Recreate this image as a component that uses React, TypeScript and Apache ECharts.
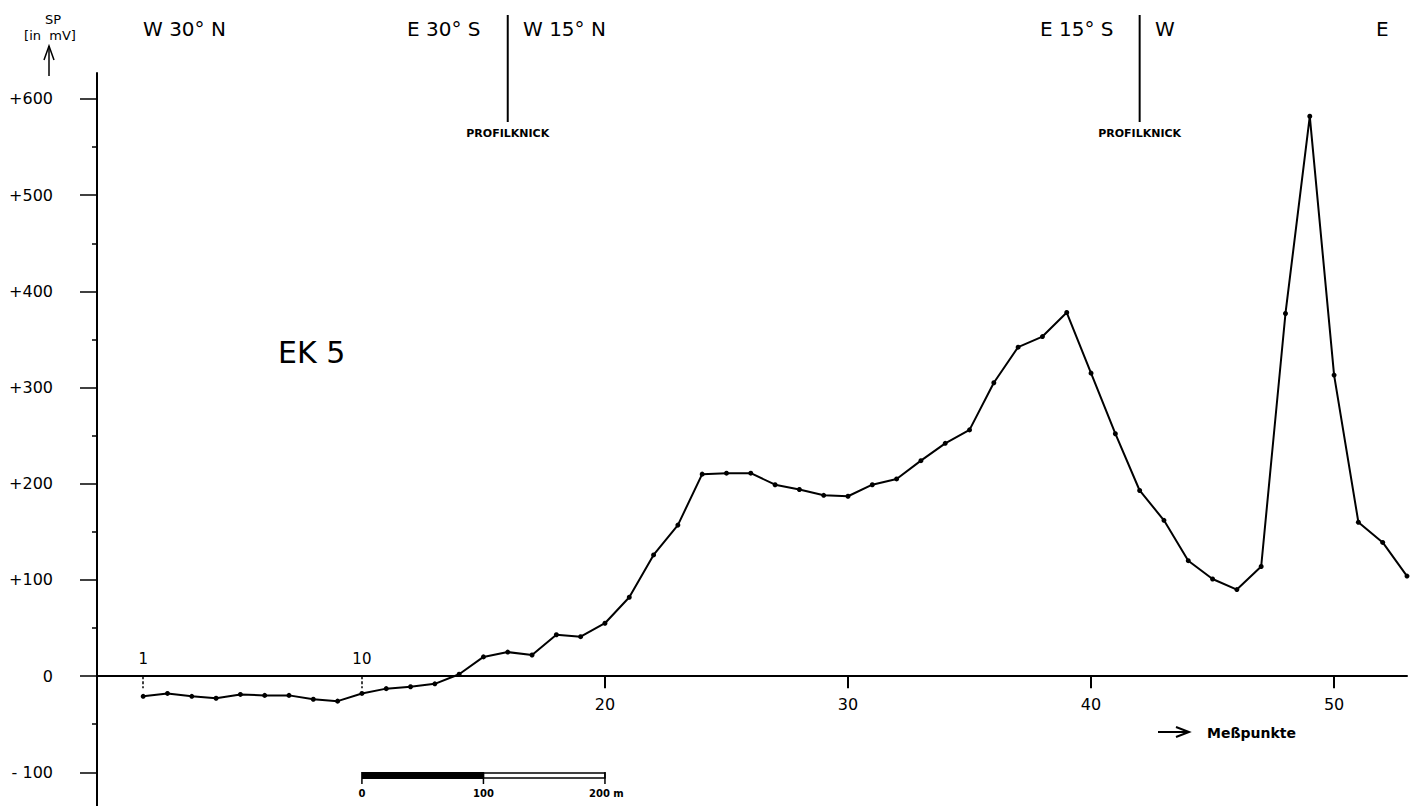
import React, { useEffect, useRef } from 'react';
import * as echarts from 'echarts';

// Measuring points (Meßpunkte) and self-potential SP values in mV
const measuringPoints = [
  1, 2, 3, 4, 5, 6, 7, 8, 9, 10,
  11, 12, 13, 14, 15, 16, 17, 18, 19, 20,
  21, 22, 23, 24, 25, 26, 27, 28, 29, 30,
  31, 32, 33, 34, 35, 36, 37, 38, 39, 40,
  41, 42, 43, 44, 45, 46, 47, 48, 49, 50,
  51, 52, 53,
];
const spValues = [
  -21, -18, -21, -23, -19, -20, -20, -24, -26, -18,
  -13, -11, -8, 2, 20, 25, 22, 43, 41, 55,
  82, 126, 157, 210, 211, 211, 199, 194, 188, 187,
  199, 205, 224, 242, 256, 305, 342, 353, 378, 315,
  252, 193, 162, 120, 101, 90, 114, 377, 582, 313,
  160, 139, 104,
];

const yMin = -135;
const yMax = 627;
const xMin = -0.9;
const xMax = 53;
const yMajorTicks = [-100, 0, 100, 200, 300, 400, 500, 600];
const yMinorTicks = [-50, 50, 150, 250, 350, 450, 550];
const xTicks = [20, 30, 40, 50];
const xLabelsBelow = [20, 30, 40, 50];
const xMarksAbove = [1, 10];
const profileKnicks = [16, 42];
const scaleBarPoints = [10, 15, 20];
const scaleBarLabels = ['0', '100', '200 m'];
const directionLabels = [
  { text: 'W 30° N', x: 143 },
  { text: 'E 30° S', x: 407 },
  { text: 'W 15° N', x: 523 },
  { text: 'E 15° S', x: 1040 },
  { text: 'W', x: 1155 },
  { text: 'E', x: 1376 },
];

const FONT = 'DejaVu Sans';

export default function App() {
  const ref = useRef<HTMLDivElement>(null);

  useEffect(() => {
    document.body.style.margin = '0';
    if (!ref.current) return;
    const chart = echarts.init(ref.current, null, { renderer: 'svg' });
    const data = measuringPoints.map((p, i) => [p, spValues[i]]);
    const black = '#000';

    const makeXAxes = (offset: number) => [
      {
        type: 'value',
        min: xMin,
        max: xMax,
        position: 'bottom',
        offset,
        axisLine: { show: true, onZero: false, lineStyle: { color: black, width: 2 } },
        axisTick: { show: true, customValues: xTicks, length: 12, lineStyle: { color: black, width: 2 } },
        axisLabel: {
          customValues: xLabelsBelow,
          margin: 20,
          color: black,
          fontSize: 16,
          fontFamily: FONT,
        },
        splitLine: { show: false },
      },
      {
        type: 'value',
        min: xMin,
        max: xMax,
        position: 'bottom',
        offset,
        axisLine: { show: false, onZero: false },
        axisTick: {
          show: true,
          customValues: xMarksAbove,
          length: 12,
          lineStyle: { color: black, width: 1.5, type: [3, 2] },
        },
        axisLabel: {
          inside: true,
          customValues: xMarksAbove,
          margin: 10,
          color: black,
          fontSize: 15,
          fontFamily: FONT,
        },
        splitLine: { show: false },
      },
    ];

    const option: any = {
      animation: false,
      backgroundColor: '#fff',
      grid: { left: 97, right: 15, top: 73, bottom: 0, outerBoundsMode: 'none', containLabel: false },
      xAxis: makeXAxes(0),
      yAxis: [
        {
          type: 'value',
          min: yMin,
          max: yMax,
          position: 'left',
          axisLine: { show: true, onZero: false, lineStyle: { color: black, width: 2 } },
          axisTick: { show: true, customValues: yMajorTicks, length: 17, lineStyle: { color: black, width: 1.5 } },
          axisLabel: {
            customValues: yMajorTicks,
            margin: 44,
            color: black,
            fontSize: 16,
            fontFamily: FONT,
            formatter: (v: number) => (v > 0 ? '+' + v : v < 0 ? '- ' + Math.abs(v) : '0'),
          },
          splitLine: { show: false },
        },
        {
          type: 'value',
          min: yMin,
          max: yMax,
          position: 'left',
          axisLine: { show: false, onZero: false },
          axisTick: { show: true, customValues: yMinorTicks, length: 5, lineStyle: { color: black, width: 1.5 } },
          axisLabel: { show: false },
          splitLine: { show: false },
        },
      ],
      series: [
        {
          type: 'line',
          xAxisIndex: 0,
          yAxisIndex: 0,
          data,
          symbol: 'circle',
          symbolSize: 5,
          showSymbol: true,
          showAllSymbol: true,
          lineStyle: { color: black, width: 2 },
          itemStyle: { color: black },
          clip: false,
        },
      ],
    };
    chart.setOption(option);

    // place the x axes on the zero line of the SP axis
    const zeroY = chart.convertToPixel({ yAxisIndex: 0 }, 0) as number;
    const bottomY = chart.convertToPixel({ yAxisIndex: 0 }, yMin) as number;
    chart.setOption({ xAxis: makeXAxes(zeroY - bottomY) });

    const px = (v: number) => chart.convertToPixel({ xAxisIndex: 0 }, v) as number;
    const txt = (text: string, x: number, y: number, size: number, align = 'left', weight = 'normal') => ({
      type: 'text',
      x,
      y,
      silent: true,
      style: {
        text,
        fill: black,
        fontSize: size,
        fontFamily: FONT,
        fontWeight: weight,
        textAlign: align,
        align,
        textVerticalAlign: 'middle',
        verticalAlign: 'middle',
      },
    });

    const graphic: any[] = [];
    // y axis title and arrow
    graphic.push(txt('SP', 53, 19, 13, 'center'));
    graphic.push(txt('[in  mV]', 50, 35, 13, 'center'));
    graphic.push({ type: 'line', shape: { x1: 49, y1: 76, x2: 49, y2: 46 }, style: { stroke: black, lineWidth: 1.5 } });
    graphic.push({ type: 'polyline', shape: { points: [[44, 60], [49, 46], [54, 60]] }, style: { stroke: black, lineWidth: 1.5, fill: null } });

    // direction labels
    directionLabels.forEach((d) => graphic.push(txt(d.text, d.x, 29, 20)));

    // profile knicks
    profileKnicks.forEach((k) => {
      const x = px(k);
      graphic.push({ type: 'line', shape: { x1: x, y1: 15, x2: x, y2: 122 }, style: { stroke: black, lineWidth: 2 } });
      graphic.push(txt('PROFILKNICK', x, 133, 11, 'center', 'bold'));
    });

    // profile name
    graphic.push(txt('EK 5', 278, 352, 30));

    // x axis name with arrow
    graphic.push({ type: 'line', shape: { x1: 1158, y1: 732, x2: 1189, y2: 732 }, style: { stroke: black, lineWidth: 2 } });
    graphic.push({ type: 'polyline', shape: { points: [[1176, 727], [1189, 732], [1176, 737]] }, style: { stroke: black, lineWidth: 2, fill: null } });
    graphic.push(txt('Meßpunkte', 1207, 733, 14, 'left', 'bold'));

    // scale bar (10 measuring points = 200 m)
    const [s0, s1, s2] = scaleBarPoints.map(px);
    graphic.push({ type: 'rect', shape: { x: s0, y: 772, width: s1 - s0, height: 7 }, style: { fill: black } });
    graphic.push({ type: 'rect', shape: { x: s1, y: 773, width: s2 - s1, height: 5 }, style: { fill: '#fff', stroke: black, lineWidth: 1.5 } });
    [s0, s1, s2].forEach((x) => {
      graphic.push({ type: 'line', shape: { x1: x, y1: 772, x2: x, y2: 784 }, style: { stroke: black, lineWidth: 1.5 } });
    });
    graphic.push(txt(scaleBarLabels[0], s0, 793, 10, 'center', 'bold'));
    graphic.push(txt(scaleBarLabels[1], s1, 793, 10, 'center', 'bold'));
    graphic.push(txt(scaleBarLabels[2], s2 - 16, 793, 10, 'left', 'bold'));

    chart.setOption({ graphic });

    return () => {
      chart.dispose();
    };
  }, []);

  return (
    <div
      ref={ref}
      style={{ position: 'fixed', left: 0, top: 0, width: 1422, height: 806, background: '#fff' }}
    />
  );
}
